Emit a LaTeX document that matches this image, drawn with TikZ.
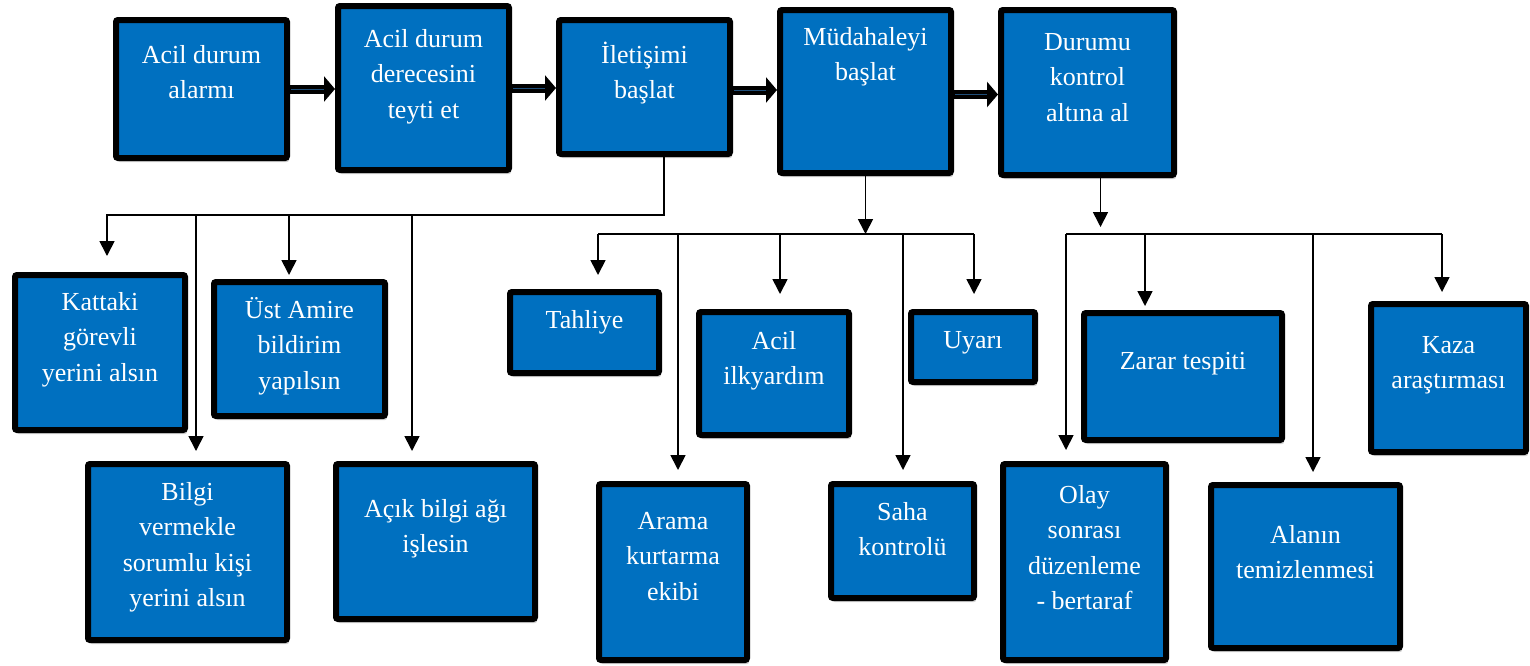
\documentclass[tikz,border=0pt]{standalone}
\usepackage{fontspec}
\setmainfont{Liberation Serif}
\usetikzlibrary{arrows.meta,shadows}
\definecolor{boxblue}{HTML}{0070C0}
\definecolor{shaftblue}{HTML}{1F4E79}
\tikzset{
  bxs/.style={draw=black, line width=6pt, fill=boxblue, rounded corners=2pt,
    inner sep=0pt, text=white, font=\fontsize{26pt}{35.5pt}\selectfont,
    drop shadow={shadow xshift=2pt, shadow yshift=-4pt, opacity=0.3, fill=black!60}},
  ln/.style={draw=black, line width=1.7pt},
  arr/.style={ln, -{Triangle[length=15pt,width=15pt]}},
  bigarr/.style={draw=black, line width=9pt, -{Triangle[length=11pt,width=25pt]}},
  innerln/.style={draw=shaftblue, line width=1pt, shorten >=11pt, shorten <=1pt},
}
% name, x1, y1, x2, y2, first-baseline offset, text
\newcommand\mybox[7]{%
  \node[bxs] (#1) at ({(#2+#4)/2},{(#3+#5)/2})
   {\parbox[t][\dimexpr #5pt-#3pt-6pt\relax][t]{\dimexpr #4pt-#2pt-6pt\relax}%
     {\centering\rule{0pt}{\dimexpr #6pt-3pt\relax}#7}};}
\begin{document}
\begin{tikzpicture}[x=1pt,y=-1pt]
\useasboundingbox (0,0) rectangle (1530,665);
% top row
\mybox{n1}{113}{17}{290}{161}{46}{Acil durum\\alarmı}
\mybox{n2}{335}{3}{512}{173}{44}{Acil durum\\derecesini\\teyti et}
\mybox{n3}{556}{17}{733}{157}{46}{İletişimi\\başlat}
\mybox{n4}{777}{7}{954}{176}{38}{Müdahaleyi\\başlat}
\mybox{n5}{998}{7}{1177}{178}{43}{Durumu\\kontrol\\altına al}
% branch A
\mybox{katt}{12}{272}{188}{433}{38}{Kattaki\\görevli\\yerini alsın}
\mybox{ust}{211}{279}{388}{419}{39}{Üst Amire\\bildirim\\yapılsın}
\mybox{bilgi}{85}{461}{290}{643}{39}{Bilgi\\vermekle\\sorumlu kişi\\yerini alsın}
\mybox{acik}{333}{461}{538}{622}{56}{Açık bilgi ağı\\işlesin}
% branch B
\mybox{tahl}{507}{289}{662}{376}{39}{Tahliye}
\mybox{ilk}{696}{309}{852}{438}{40}{Acil\\ilkyardım}
\mybox{uyari}{908}{309}{1038}{385}{39}{Uyarı}
\mybox{arama}{596}{481}{750}{663}{48}{Arama\\kurtarma\\ekibi}
\mybox{saha}{828}{481}{977}{601}{39}{Saha\\kontrolü}
% branch C
\mybox{zarar}{1081}{310}{1285}{443}{59}{Zarar tespiti}
\mybox{kaza}{1368}{301}{1529}{455}{52}{Kaza\\araştırması}
\mybox{olay}{1000}{461}{1169}{663}{42}{Olay\\sonrası\\düzenleme\\- bertaraf}
\mybox{alan}{1208}{482}{1403}{651}{61}{Alanın\\temizlenmesi}

% top arrows
\draw[bigarr] (n1.east) -- (n1.east -| n2.west);
\draw[innerln] (n1.east) -- (n1.east -| n2.west);
\draw[bigarr] (n2.east) -- (n2.east -| n3.west);
\draw[innerln] (n2.east) -- (n2.east -| n3.west);
\draw[bigarr] ([yshift=-3pt]n3.east) -- ([yshift=-3pt]n3.east -| n4.west);
\draw[innerln] ([yshift=-3pt]n3.east) -- ([yshift=-3pt]n3.east -| n4.west);
\draw[bigarr] ([yshift=-3pt]n4.east) -- ([yshift=-3pt]n4.east -| n5.west);
\draw[innerln] ([yshift=-3pt]n4.east) -- ([yshift=-3pt]n4.east -| n5.west);

% branch A connectors
\coordinate (jA) at (664,215);
\coordinate (a1) at (107,215);
\coordinate (a2) at (196,215);
\coordinate (a3) at (289,215);
\coordinate (a4) at (412,215);
\draw[arr, shorten >=16pt] (n3.south -| jA) -- (jA) -- (a1) -- (a1 |- katt.north);
\draw[arr, shorten >=10pt] (a2) -- (a2 |- bilgi.north);
\draw[arr, shorten >=4pt] (a3) -- (a3 |- ust.north);
\draw[arr, shorten >=10pt] (a4) -- (a4 |- acik.north);

% branch B connectors
\coordinate (jB) at (865.5,234);
\coordinate (b1) at (598,234);
\coordinate (b2) at (678,234);
\coordinate (b3) at (780,234);
\coordinate (b4) at (903,234);
\coordinate (b5) at (974,234);
\draw[ln] (b1) -- (b5);
\draw[arr] (n4.south) -- (jB);
\draw[arr, shorten >=14pt] (b1) -- (b1 |- tahl.north);
\draw[arr, shorten >=11pt] (b2) -- (b2 |- arama.north);
\draw[arr, shorten >=15pt] (b3) -- (b3 |- ilk.north);
\draw[arr, shorten >=11pt] (b4) -- (b4 |- saha.north);
\draw[arr, shorten >=15pt] (b5) -- (b5 |- uyari.north);

% branch C connectors
\coordinate (jC) at (1100.5,234);
\coordinate (c1) at (1066,234);
\coordinate (c2) at (1145,234);
\coordinate (c3) at (1313,234);
\coordinate (c4) at (1442,234);
\draw[ln] (c1) -- (c4);
\draw[arr, shorten >=7pt] (n5.south -| jC) -- (jC);
\draw[arr, shorten >=11pt] (c1) -- (c1 |- olay.north);
\draw[arr, shorten >=4pt] (c2) -- (c2 |- zarar.north);
\draw[arr, shorten >=10pt] (c3) -- (c3 |- alan.north);
\draw[arr, shorten >=9pt] (c4) -- (c4 |- kaza.north);
\end{tikzpicture}
\end{document}
